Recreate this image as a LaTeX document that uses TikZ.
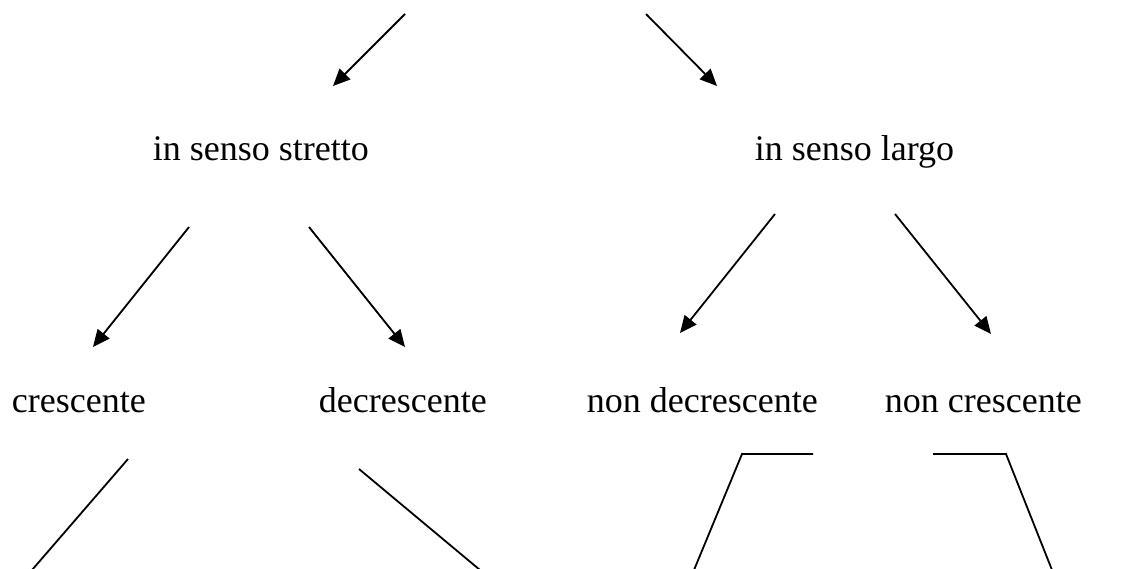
\documentclass[tikz,border=0pt]{standalone}
\usepackage{fontspec}
\setmainfont{Liberation Serif}
\usetikzlibrary{arrows.meta}
\begin{document}
\begin{tikzpicture}[x=1pt,y=-1pt,line width=1.8pt,
  arr/.style={-{Triangle[length=17pt,width=15pt]}},
  seg/.style={line join=miter},
  lbl/.style={anchor=base west,inner sep=0pt,font=\fontsize{36}{43}\selectfont}]
\useasboundingbox (0,0) rectangle (1142,568);
% labels
\node[lbl] (stretto) at (152,160) {in senso stretto};
\node[lbl] (largo) at (754,160) {in senso largo};
\node[lbl] (cresc) at (11,412) {crescente};
\node[lbl] (decresc) at (318,412) {decrescente};
\node[lbl] (nondecresc) at (586,412) {non decrescente};
\node[lbl] (noncresc) at (884,412) {non crescente};
% top arrows
\coordinate (a1s) at (405,14); \coordinate (a1e) at (333,86);
\coordinate (a2s) at (646,14); \coordinate (a2e) at (717,86);
\draw[arr] (a1s) -- (a1e);
\draw[arr] (a2s) -- (a2e);
% second level arrows
\coordinate (b1s) at (189,227); \coordinate (b1e) at (93,347);
\coordinate (b2s) at (309,227); \coordinate (b2e) at (405,347);
\coordinate (b3s) at (775,214); \coordinate (b3e) at (680,333);
\coordinate (b4s) at (895,214); \coordinate (b4e) at (991,334);
\draw[arr] (b1s) -- (b1e);
\draw[arr] (b2s) -- (b2e);
\draw[arr] (b3s) -- (b3e);
\draw[arr] (b4s) -- (b4e);
% bottom lines
\coordinate (c1s) at (128,459); \coordinate (c1e) at (32,570);
\coordinate (c2s) at (359,469); \coordinate (c2e) at (480,570);
\coordinate (c3a) at (813,454); \coordinate (c3b) at (742,454); \coordinate (c3c) at (694,570);
\coordinate (c4a) at (933,454); \coordinate (c4b) at (1006,454); \coordinate (c4c) at (1052,570);
\draw[seg] (c1s) -- (c1e);
\draw[seg] (c2s) -- (c2e);
\draw[seg] (c3a) -- (c3b) -- (c3c);
\draw[seg] (c4a) -- (c4b) -- (c4c);
\end{tikzpicture}
\end{document}
